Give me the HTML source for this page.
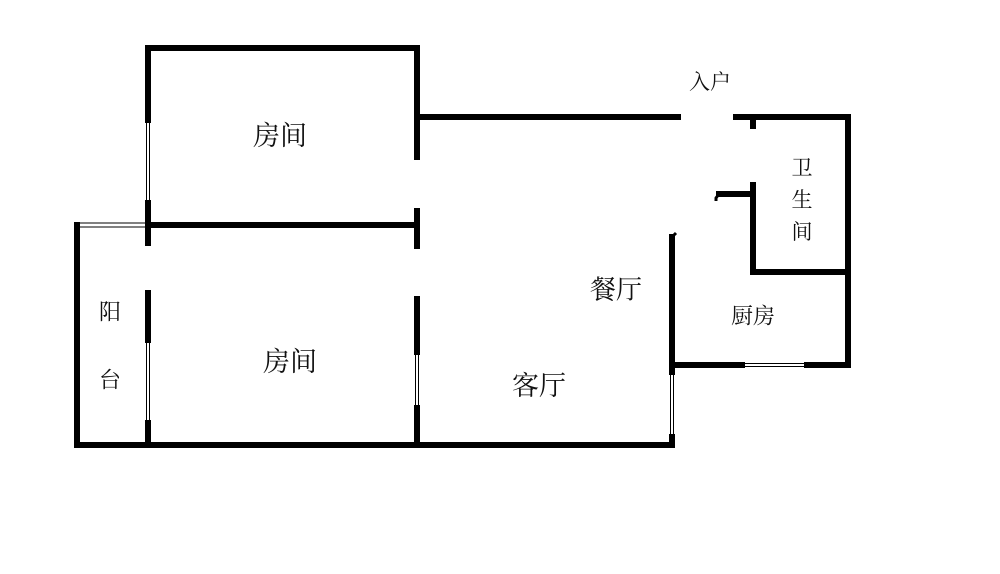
<!DOCTYPE html>
<html><head><meta charset="utf-8"><style>
html,body{margin:0;padding:0;background:#fff;}
svg{display:block;}
text{font-family:"Liberation Serif","Noto Serif CJK SC",serif;fill:#111;text-anchor:middle;dominant-baseline:central;}
</style></head><body>
<svg width="1000" height="574" viewBox="0 0 1000 574" xmlns="http://www.w3.org/2000/svg">
<g stroke="#000" stroke-width="6" fill="none" stroke-linecap="square">
<line x1="148" y1="48" x2="417" y2="48"/>
<line x1="148" y1="48" x2="148" y2="120"/>
<line x1="148" y1="203" x2="148" y2="243"/>
<line x1="148" y1="225" x2="417" y2="225"/>
<line x1="417" y1="48" x2="417" y2="157"/>
<line x1="417" y1="211" x2="417" y2="246"/>
<line x1="417" y1="117" x2="678" y2="117"/>
<line x1="736" y1="117" x2="848" y2="117"/>
<line x1="753" y1="117" x2="753" y2="126"/>
<line x1="848" y1="117" x2="848" y2="365"/>
<line x1="753" y1="185" x2="753" y2="272"/>
<line x1="753" y1="272" x2="848" y2="272"/>
<line x1="719" y1="194" x2="753" y2="194"/>
<line x1="672" y1="237" x2="672" y2="372"/>
<line x1="672" y1="365" x2="742" y2="365"/>
<line x1="807" y1="365" x2="848" y2="365"/>
<line x1="672" y1="437" x2="672" y2="445"/>
<line x1="77" y1="225" x2="77" y2="445"/>
<line x1="77" y1="445" x2="672" y2="445"/>
<line x1="148" y1="293" x2="148" y2="340"/>
<line x1="148" y1="423" x2="148" y2="445"/>
<line x1="417" y1="299" x2="417" y2="352"/>
<line x1="417" y1="408" x2="417" y2="445"/>
</g>
<g stroke="#000" stroke-width="1" fill="none">
<rect x="146.5" y="120" width="3" height="83"/>
<rect x="146.5" y="340" width="3" height="83"/>
<rect x="415.5" y="352" width="3" height="56"/>
<rect x="670.5" y="372" width="3" height="65"/>
<rect x="742" y="363.5" width="65" height="3"/>
<line x1="77" y1="223" x2="146" y2="223"/>
<line x1="79" y1="227" x2="146" y2="227"/>
</g>
<path d="M719 194 l-3 4 v3" stroke="#000" stroke-width="3" fill="none"/>
<path d="M672 237 l4 -4" stroke="#000" stroke-width="3" fill="none"/>
<text x="280" y="136" font-size="27">房间</text>
<text x="290" y="362" font-size="27">房间</text>
<text x="110" y="312" font-size="22">阳</text>
<text x="110" y="380" font-size="22">台</text>
<text x="710" y="82" font-size="21">入户</text>
<text x="802" y="168" font-size="21">卫</text>
<text x="802" y="200" font-size="21">生</text>
<text x="802" y="232" font-size="21">间</text>
<text x="616" y="290" font-size="26">餐厅</text>
<text x="753" y="316" font-size="22">厨房</text>
<text x="539" y="386" font-size="27">客厅</text>
</svg>
</body></html>
